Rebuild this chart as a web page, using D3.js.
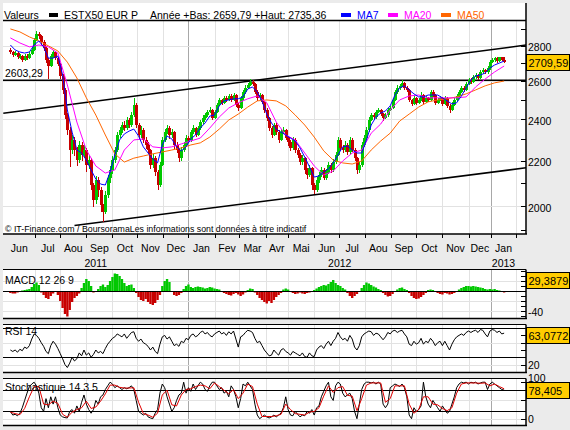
<!DOCTYPE html>
<html>
<head>
<meta charset="utf-8">
<title>ESTX50 EUR P</title>
<script src="https://cdn.jsdelivr.net/npm/d3@7"></script>
<style>
body { margin: 0; background: #ebebeb; }
.data_figure svg { display: block; font-family: "Liberation Sans", Arial, sans-serif; }
</style>
</head>
<body>
<div class="data_figure"></div>
<script>
// time axis: trading-day index where each month starts (last one = Feb 2013)
const monthNames = ["Jun", "Jul", "Aou", "Sep", "Oct", "Nov", "Dec", "Jan", "Fev", "Mar", "Avr", "Mai",
                    "Jun", "Jul", "Aou", "Sep", "Oct", "Nov", "Dec", "Jan"];
const monthStartDay = [-5, 22, 43, 65, 87, 108, 130, 151, 173, 194, 216, 235, 257, 278, 300, 322, 343, 365, 387, 406, 427];
const yearNames = ["2011", "2012", "2013"];
const yearStartDay = [-5, 151, 406, 427];

// candles, one per 2 trading days (open = previous close)
const firstOpen = 2772;
const closes = [
    2762,2745,2756,2733,2739,2716,2739,2727,2751,2774,
    2833,2869,2857,2821,2786,2716,2682,2739,2762,2727,
    2693,2627,2551,2420,2345,2249,2297,2249,2202,2273,
    2226,2249,2180,2202,2090,2025,2112,2068,2004,1975,
    2047,2121,2157,2202,2249,2321,2345,2370,2355,2395,
    2370,2420,2472,2370,2321,2345,2297,2273,2249,2180,
    2211,2148,2090,2180,2297,2335,2355,2321,2335,2273,
    2249,2211,2249,2273,2306,2297,2335,2355,2321,2355,
    2385,2405,2420,2436,2446,2405,2436,2472,2498,2483,
    2509,2498,2519,2498,2524,2472,2456,2509,2540,2562,
    2578,2594,2583,2540,2509,2524,2488,2446,2405,2355,
    2321,2370,2335,2297,2335,2345,2306,2287,2259,2297,
    2249,2226,2193,2211,2157,2134,2166,2090,2068,2112,
    2134,2157,2121,2148,2180,2157,2193,2226,2297,2259,
    2249,2273,2240,2297,2249,2211,2157,2180,2273,2306,
    2345,2395,2420,2410,2436,2446,2425,2405,2420,2446,
    2456,2498,2540,2562,2573,2589,2562,2551,2498,2477,
    2509,2483,2498,2524,2488,2509,2498,2540,2524,2483,
    2498,2509,2477,2509,2467,2446,2472,2498,2519,2540,
    2562,2551,2583,2605,2594,2621,2632,2616,2649,2660,
    2649,2671,2704,2716,2727,2710,2733,2716,2709.59
];
const highs = [
    2785,2770,2768,2762,2752,2745,2748,2750,2760,2790,
    2845,2885,2878,2862,2830,2795,2725,2750,2775,2770,
    2735,2700,2640,2560,2430,2360,2320,2310,2265,2290,
    2285,2275,2260,2225,2210,2100,2130,2125,2080,2010,
    2065,2135,2175,2220,2265,2335,2360,2385,2390,2410,
    2405,2435,2510,2480,2380,2365,2355,2310,2285,2255,
    2230,2220,2155,2195,2310,2350,2370,2365,2350,2340,
    2285,2260,2262,2285,2320,2318,2345,2368,2362,2365,
    2395,2418,2432,2448,2460,2452,2445,2482,2510,2505,
    2518,2520,2530,2528,2535,2530,2480,2518,2550,2575,
    2590,2612,2605,2590,2548,2535,2530,2495,2455,2412,
    2365,2380,2378,2345,2348,2360,2352,2318,2295,2310,
    2305,2260,2235,2225,2218,2165,2178,2172,2100,2125,
    2150,2170,2165,2160,2195,2190,2205,2240,2310,2305,
    2275,2290,2282,2310,2305,2258,2218,2195,2285,2320,
    2360,2410,2432,2430,2448,2458,2452,2432,2430,2455,
    2468,2510,2552,2575,2585,2605,2595,2570,2558,2505,
    2520,2515,2510,2540,2530,2520,2515,2550,2548,2530,
    2510,2520,2515,2518,2515,2475,2485,2508,2528,2552,
    2572,2570,2592,2615,2615,2630,2642,2640,2658,2670,
    2668,2680,2715,2728,2735,2732,2735,2734,2733
];
const lows = [
    2750,2732,2738,2722,2720,2705,2708,2715,2720,2745,
    2768,2825,2840,2805,2770,2700,2610,2675,2730,2715,
    2680,2610,2530,2400,2320,2170,2230,2220,2175,2190,
    2200,2210,2150,2160,2070,1995,2010,2040,1975,1935,
    1965,2035,2100,2140,2190,2240,2305,2330,2340,2345,
    2355,2360,2410,2355,2300,2305,2280,2255,2230,2160,
    2165,2130,2068,2080,2175,2285,2325,2300,2305,2255,
    2235,2195,2200,2240,2262,2280,2288,2325,2310,2315,
    2345,2375,2395,2410,2428,2395,2398,2430,2465,2470,
    2475,2488,2490,2485,2490,2460,2440,2450,2500,2530,
    2555,2570,2570,2530,2495,2500,2475,2430,2390,2340,
    2305,2315,2320,2280,2290,2325,2295,2270,2245,2250,
    2235,2210,2180,2180,2140,2115,2125,2070,2050,2060,
    2100,2125,2110,2112,2140,2145,2150,2185,2220,2245,
    2235,2240,2228,2232,2240,2200,2140,2145,2170,2265,
    2298,2338,2388,2398,2402,2428,2415,2392,2398,2412,
    2440,2450,2492,2530,2552,2565,2550,2540,2485,2465,
    2470,2472,2475,2490,2478,2480,2485,2492,2515,2470,
    2475,2490,2465,2470,2455,2430,2440,2465,2490,2512,
    2532,2542,2545,2575,2585,2588,2612,2605,2610,2640,
    2638,2640,2660,2698,2705,2700,2702,2708,2700
];

// moving averages: MA7 every 4 trading days, MA20 / MA50 every 8 trading days
const ma7 = [
    2803,2774,2762,2756,2762,2803,2827,2792,2727,2727,
    2739,2632,2446,2335,2249,2235,2202,2157,2116,2094,
    2090,2148,2226,2297,2326,2340,2350,2316,2264,2235,
    2207,2189,2273,2316,2302,2264,2245,2264,2302,2321,
    2355,2380,2415,2420,2467,2493,2498,2504,2504,2514,
    2556,2567,2540,2493,2425,2380,2350,2335,2321,2306,
    2292,2259,2216,2171,2125,2130,2148,2162,2189,2226,
    2264,2268,2249,2235,2235,2297,2370,2410,2430,2441,
    2467,2524,2562,2573,2551,2530,2514,2514,2524,2524,
    2524,2509,2493,2477,2483,2519,2562,2605,2627,2632,
    2643,2671,2688,2699,2710
];
const ma20 = [
    2845,2815,2792,2803,2792,2756,2578,2385,2249,2175,
    2143,2157,2249,2297,2302,2264,2259,2264,2278,2292,
    2306,2355,2410,2456,2483,2504,2519,2483,2385,2321,
    2297,2235,2175,2134,2152,2198,2235,2249,2330,2375,
    2446,2498,2519,2524,2509,2509,2509,2509,2514,2567,
    2610,2649,2682
];
const ma50 = [
    2899,2881,2851,2827,2798,2768,2704,2616,2509,2420,
    2321,2231,2193,2211,2221,2231,2240,2249,2259,2273,
    2283,2311,2350,2395,2425,2461,2493,2498,2493,2467,
    2420,2370,2311,2245,2202,2189,2184,2198,2249,2292,
    2330,2390,2425,2461,2488,2498,2504,2514,2530,2551,
    2573,2589,2599
];

// indicators, one value per candle (stochD every 4 trading days)
const macdHist = [
    -4,-5,-5,-3,-2,1,2,3,4,8,
    14,17,12,-3,-8,-14,-16,-10,-5,-2,
    -8,-20,-34,-46,-51,-38,-22,-14,-10,-5,
    6,16,24,20,10,-3,-2,4,10,13,
    8,12,20,28,35,34,30,24,16,10,
    12,13,6,-4,-12,-18,-20,-16,-22,-26,
    -28,-24,-18,-8,10,20,24,18,-2,-8,
    -10,-8,-4,4,10,13,8,6,8,9,
    8,7,5,6,8,7,5,4,3,-2,
    -4,-6,-8,-9,-6,-4,-7,-10,-7,-3,
    2,5,4,-3,-8,-14,-18,-22,-25,-20,
    -24,-18,-12,-8,-4,3,5,3,-2,-4,
    -6,-5,-3,-5,-6,-4,-3,-2,2,5,
    8,10,12,11,14,18,22,16,12,10,
    6,3,-4,-10,-14,-10,-6,-2,6,12,
    17,15,12,9,7,4,2,-4,-8,-11,
    -10,-6,-2,3,6,7,4,2,-4,-10,
    -14,-16,-15,-12,-8,-4,2,3,2,-2,
    -4,-6,-7,-4,-5,-7,-6,-4,-2,3,
    6,8,10,10,9,10,9,8,7,6,
    4,3,4,3,4,2,1,-2,-3
];
const rsi = [
    40,38,40,37,41,39,44,42,46,55,
    62,60,56,50,45,38,35,46,52,48,
    42,35,28,20,16,22,30,25,28,36,
    32,40,33,36,30,34,40,36,38,35,
    42,48,52,56,58,62,60,58,62,56,
    60,64,65,56,52,55,50,48,45,40,
    44,38,35,48,58,60,55,58,52,46,
    48,45,52,50,56,54,60,62,58,60,
    64,66,62,64,60,58,62,64,66,62,
    64,60,65,62,66,55,44,58,60,64,
    67,66,64,56,50,52,46,40,36,32,
    33,40,36,33,40,42,38,36,33,38,
    36,34,32,36,31,30,36,32,31,40,
    44,46,42,48,52,46,52,56,64,58,
    54,56,52,60,55,44,40,46,58,62,
    64,66,65,60,63,62,58,54,58,64,
    62,66,67,64,66,67,62,58,48,46,
    52,48,50,56,48,52,50,56,52,46,
    50,52,46,52,46,40,48,54,58,60,
    62,60,64,66,64,66,67,64,68,67,
    62,58,66,68,67,64,66,62,63.08
];
const stochK = [
    20,10,12,8,15,30,50,70,88,95,
    100,90,70,30,20,55,30,60,40,60,
    30,10,5,3,2,20,25,15,35,20,
    45,65,40,25,15,25,50,40,60,65,
    80,90,100,95,85,90,85,80,85,82,
    85,90,80,50,20,15,10,15,5,2,
    0,15,25,70,95,85,60,40,20,30,
    50,65,70,100,70,85,75,95,80,90,
    100,95,80,75,90,100,100,90,80,85,
    70,75,60,90,80,60,30,55,95,90,
    100,90,80,40,10,0,5,10,5,2,
    5,10,5,10,15,30,60,25,10,8,
    20,12,5,10,8,20,15,25,10,30,
    35,60,75,90,100,60,50,90,100,95,
    70,60,65,70,55,20,0,40,80,95,
    100,100,98,100,95,100,95,40,30,40,
    85,90,95,92,88,95,85,60,10,0,
    30,20,25,35,100,60,40,30,50,40,
    30,20,35,25,15,20,40,60,85,95,
    100,98,100,95,100,98,100,95,98,100,
    100,80,95,100,95,90,85,80,78.4
];
const stochD = [
    18,14,11,28,60,88,88,40,38,48,
    42,12,4,18,25,30,48,28,32,48,
    68,92,92,86,84,84,85,45,14,10,
    4,15,65,78,38,35,65,80,82,88,
    92,90,82,98,88,78,68,80,55,70,
    95,88,40,6,6,6,8,12,40,25,
    14,12,10,18,20,30,62,90,72,85,
    88,64,62,22,55,92,98,98,98,45,
    55,90,90,90,40,15,25,60,60,40,
    38,28,22,30,70,95,98,98,98,97,
    98,90,95,88,82
];

// axis ticks and reference lines
const priceTicks = [2000, 2200, 2400, 2600, 2800];
const priceMinorTicks = [1900, 2100, 2300, 2500, 2700, 2900];
const supportLevel = 2603.29;
const upperTrend = [[-5, 2429], [436, 2803]];
const lowerTrend = [[55, 1920], [436, 2167]];
const lastPrice = "2709,59";
const lastMacd = 29.3879;
const lastRsi = 63.0772;
const lastStoch = 78.405;

const W = 570, H = 430;
const left = 3, right = 526;
const green = "#00c800", red = "#c80000";

const mainPanel = { top: 3, plotTop: 20.5, bottom: 234 };
const macdPanel = { top: 269.5, bottom: 318.5 };
const rsiPanel = { top: 324.5, bottom: 372.5 };
const stochPanel = { top: 378.5, bottom: 425.5 };

const x = d3.scaleLinear().domain([0, 427]).range([9.2, 516]);
const px = (d) => Math.round(x(d)) + 0.5;
const fmt = (v) => d3.format(".4~f")(v).replace(".", ",");

const svg = d3.select(".data_figure")
              .append("svg")
              .attr("width", W)
              .attr("height", H);

svg.append("rect").attr("width", W).attr("height", H).attr("fill", "#ebebeb");

function addClip(id, top, bottom) {
    svg.append("clipPath").attr("id", id)
        .append("rect")
        .attr("x", left).attr("y", top)
        .attr("width", right - left).attr("height", bottom - top);
    return "url(#" + id + ")";
}

function panelBase(p) {
    svg.append("rect")
        .attr("x", left).attr("y", p.top)
        .attr("width", right - left).attr("height", p.bottom - p.top)
        .attr("fill", "#fff");
    const g = svg.append("g");
    // month grid, darker at each new year
    g.selectAll(".vgrid")
        .data(monthStartDay.slice(1))
        .enter()
            .append("line")
            .attr("class", "vgrid")
            .attr("x1", (d) => px(d)).attr("x2", (d) => px(d))
            .attr("y1", p.plotTop || p.top).attr("y2", p.bottom)
            .attr("stroke", (d) => yearStartDay.slice(1, -1).includes(d) ? "#a8a8a8" : "#e2e2e2");
    return g;
}

function panelBorder(p, withTop) {
    if (withTop) {
        svg.append("line").attr("x1", left).attr("x2", right)
            .attr("y1", p.top).attr("y2", p.top).attr("stroke", "#000");
    }
    svg.append("line").attr("x1", left).attr("x2", right + 1)
        .attr("y1", p.bottom).attr("y2", p.bottom)
        .attr("stroke", "#000").attr("stroke-width", 1.5);
    svg.append("line").attr("x1", right).attr("x2", right)
        .attr("y1", p.top).attr("y2", p.bottom)
        .attr("stroke", "#000").attr("stroke-width", 1.5);
}

function hLines(g, values, scale, color) {
    g.selectAll(null)
        .data(values)
        .enter()
            .append("line")
            .attr("x1", left).attr("x2", right)
            .attr("y1", (d) => Math.round(scale(d)) + 0.5)
            .attr("y2", (d) => Math.round(scale(d)) + 0.5)
            .attr("stroke", color);
}

function rightTicks(values, scale) {
    svg.append("g").selectAll("line")
        .data(values)
        .enter()
            .append("line")
            .attr("x1", right - 5).attr("x2", right)
            .attr("y1", (d) => Math.round(scale(d)) + 0.5)
            .attr("y2", (d) => Math.round(scale(d)) + 0.5)
            .attr("stroke", "#000");
}

function rightLabels(values, scale, dy) {
    svg.append("g").selectAll("text")
        .data(values)
        .enter()
            .append("text")
            .attr("x", right + 2)
            .attr("y", (d) => scale(d) + dy)
            .attr("font-size", "10.5px")
            .text((d) => d);
}

function valueBox(yc, label) {
    svg.append("rect")
        .attr("x", right + 0.5).attr("y", Math.round(yc - 8) + 0.5)
        .attr("width", W - right - 1).attr("height", 16)
        .attr("fill", "#ffcc00").attr("stroke", "#000");
    svg.append("text")
        .attr("x", right + 2.5).attr("y", Math.round(yc - 8) + 12.5)
        .attr("font-size", "11px")
        .text(label);
}

function drawMain() {
    const y = d3.scaleLog().domain([2000, 2800]).range([206, 45.5]);
    const g = panelBase(mainPanel);
    const clip = addClip("clipMain", mainPanel.plotTop, mainPanel.bottom);
    hLines(g, priceTicks, y, "#e2e2e2");

    const lines = svg.append("g").attr("clip-path", clip);
    lines.append("line")
        .attr("x1", left).attr("x2", right)
        .attr("y1", y(supportLevel)).attr("y2", y(supportLevel))
        .attr("stroke", "#000").attr("stroke-width", 1.6);
    [upperTrend, lowerTrend].forEach((t) => {
        lines.append("line")
            .attr("x1", x(t[0][0])).attr("y1", y(t[0][1]))
            .attr("x2", x(t[1][0])).attr("y2", y(t[1][1]))
            .attr("stroke", "#000").attr("stroke-width", 1.5);
    });

    // candles
    const candles = closes.map((c, i) => ({
        day: 2 * i + 1,
        open: i ? closes[i - 1] : firstOpen,
        close: c, high: highs[i], low: lows[i]
    }));
    const cg = svg.append("g").attr("clip-path", clip).attr("shape-rendering", "crispEdges");
    cg.selectAll(".wick")
        .data(candles)
        .enter()
            .append("rect")
            .attr("x", (d) => Math.round(x(d.day)))
            .attr("width", 1)
            .attr("y", (d) => y(d.high))
            .attr("height", (d) => y(d.low) - y(d.high))
            .attr("fill", (d) => d.close >= d.open ? green : red);
    cg.selectAll(".body")
        .data(candles)
        .enter()
            .append("rect")
            .attr("x", (d) => Math.round(x(d.day)) - 1)
            .attr("width", 3)
            .attr("y", (d) => y(Math.max(d.open, d.close)))
            .attr("height", (d) => Math.max(1.5, Math.abs(y(d.open) - y(d.close))))
            .attr("fill", (d) => d.close >= d.open ? green : red);

    // moving averages
    const maGroup = svg.append("g").attr("clip-path", clip).attr("fill", "none");
    maGroup.append("path").datum(ma50)
        .attr("d", d3.line().x((d, i) => x(8 * i + 1)).y((d) => y(d)))
        .attr("stroke", "#ff6600");
    maGroup.append("path").datum(ma20)
        .attr("d", d3.line().x((d, i) => x(8 * i + 1)).y((d) => y(d)))
        .attr("stroke", "#ff00ff");
    maGroup.append("path").datum(ma7)
        .attr("d", d3.line().x((d, i) => x(4 * i + 1)).y((d) => y(d)))
        .attr("stroke", "#0000ff");

    svg.append("text")
        .attr("x", 5).attr("y", y(supportLevel) - 3.5)
        .attr("font-size", "10.5px")
        .text(fmt(supportLevel));
    svg.append("text")
        .attr("x", 5).attr("y", 231.5)
        .attr("font-size", "8.8px")
        .text("\u00a9 IT-Finance.com / BoursoramaLes informations sont donn\u00e9es \u00e0 titre indicatif");

    // header
    svg.append("line")
        .attr("x1", left).attr("x2", right)
        .attr("y1", mainPanel.plotTop).attr("y2", mainPanel.plotTop)
        .attr("stroke", "#000").attr("stroke-width", 1.5);
    const header = svg.append("g").attr("font-size", "10.5px");
    header.append("text").attr("x", 4).attr("y", 18.5).text("Valeurs");
    header.append("rect").attr("x", 49).attr("y", 13).attr("width", 9).attr("height", 4).attr("fill", "#000");
    header.append("text").attr("x", 64).attr("y", 18.5).text("ESTX50 EUR P");
    header.append("text").attr("x", 150).attr("y", 18.5).text("Ann\u00e9e +Bas: 2659,79 +Haut: 2735,36");
    const legend = [["MA7", "#0000ff", 341], ["MA20", "#ff00ff", 388], ["MA50", "#ff6600", 441]];
    legend.forEach((l) => {
        header.append("rect").attr("x", l[2]).attr("y", 13).attr("width", 10).attr("height", 4).attr("fill", l[1]);
        header.append("text").attr("x", l[2] + 16).attr("y", 18.5).attr("fill", l[1]).text(l[0]);
    });

    panelBorder(mainPanel, false);
    rightTicks(priceTicks.concat(priceMinorTicks), y);
    rightLabels(priceTicks, y, 5.5);
    valueBox(y(2709.59) + 1, lastPrice);

    // time axis
    svg.append("g").selectAll("line")
        .data(monthStartDay.slice(1))
        .enter()
            .append("line")
            .attr("x1", (d) => px(d)).attr("x2", (d) => px(d))
            .attr("y1", mainPanel.bottom).attr("y2", mainPanel.bottom + 4)
            .attr("stroke", "#000");
    svg.append("g").selectAll("text")
        .data(monthNames)
        .enter()
            .append("text")
            .attr("x", (d, i) => x((monthStartDay[i] + monthStartDay[i + 1]) / 2))
            .attr("y", 251.5)
            .attr("text-anchor", "middle")
            .attr("font-size", "10.5px")
            .text((d) => d);
    svg.append("g").selectAll("text")
        .data(yearNames)
        .enter()
            .append("text")
            .attr("x", (d, i) => x((yearStartDay[i] + yearStartDay[i + 1]) / 2))
            .attr("y", 267)
            .attr("text-anchor", "middle")
            .attr("font-size", "10.5px")
            .text((d) => d);
}

function drawMacd() {
    const y = d3.scaleLinear().domain([-40, 40]).range([311, 271]);
    const g = panelBase(macdPanel);
    hLines(g, [20, -20, -40], y, "#e2e2e2");
    const clip = addClip("clipMacd", macdPanel.top, macdPanel.bottom);
    svg.append("g").attr("clip-path", clip)
        .selectAll("rect")
        .data(macdHist)
        .enter()
            .append("rect")
            .attr("x", (d, i) => x(2 * i))
            .attr("width", (d, i) => x(2 * i + 2) - x(2 * i))
            .attr("y", (d) => Math.min(y(d), y(0)))
            .attr("height", (d) => Math.abs(y(d) - y(0)))
            .attr("fill", (d) => d >= 0 ? green : red);
    hLines(svg.append("g"), [0], y, "#000");
    svg.append("text").attr("x", 5).attr("y", 284).attr("font-size", "10.5px").text("MACD 12 26 9");
    panelBorder(macdPanel, true);
    rightTicks(d3.range(-50, 41, 10), y);
    rightLabels([-40], y, 4.5);
    valueBox(Math.max(y(lastMacd), macdPanel.top + 10), fmt(lastMacd));
}

function drawRsi() {
    const y = d3.scaleLinear().domain([20, 70]).range([364.6, 328.1]);
    const g = panelBase(rsiPanel);
    hLines(g, [20, 50], y, "#e2e2e2");
    hLines(g, [30, 70], y, "#000");
    const clip = addClip("clipRsi", rsiPanel.top, rsiPanel.bottom);
    svg.append("path").datum(rsi)
        .attr("clip-path", clip)
        .attr("d", d3.line().x((d, i) => x(2 * i + 1)).y((d) => y(d)))
        .attr("fill", "none").attr("stroke", "#000");
    svg.append("text").attr("x", 5).attr("y", 335).attr("font-size", "10.5px").text("RSI 14");
    panelBorder(rsiPanel, true);
    rightTicks(d3.range(10, 71, 10), y);
    rightLabels([20], y, 4.5);
    valueBox(Math.max(y(lastRsi), rsiPanel.top + 10), fmt(lastRsi));
}

function drawStoch() {
    const y = d3.scaleLinear().domain([0, 100]).range([418.7, 382.2]);
    const g = panelBase(stochPanel);
    hLines(g, [0, 50], y, "#e2e2e2");
    hLines(g, [20, 80], y, "#000");
    const clip = addClip("clipStoch", stochPanel.top, stochPanel.bottom);
    svg.append("path").datum(stochK)
        .attr("clip-path", clip)
        .attr("d", d3.line().x((d, i) => x(2 * i + 1)).y((d) => y(d)))
        .attr("fill", "none").attr("stroke", "#000");
    svg.append("path").datum(stochD)
        .attr("clip-path", clip)
        .attr("d", d3.line().x((d, i) => x(4 * i + 1)).y((d) => y(d)))
        .attr("fill", "none").attr("stroke", "#e00000");
    svg.append("text").attr("x", 5).attr("y", 390.5).attr("font-size", "10.5px").text("Stochastique 14 3 5");
    panelBorder(stochPanel, true);
    rightTicks([0, 20, 50, 80, 100], y);
    rightLabels([0], y, 4.5);
    // "100" sits just above the value box
    svg.append("text").attr("x", right + 2).attr("y", 381.5).attr("font-size", "10.5px").text("100");
    valueBox(Math.max(y(lastStoch), stochPanel.top + 11), fmt(lastStoch));
}

drawMain();
drawMacd();
drawRsi();
drawStoch();
</script>
</body>
</html>
